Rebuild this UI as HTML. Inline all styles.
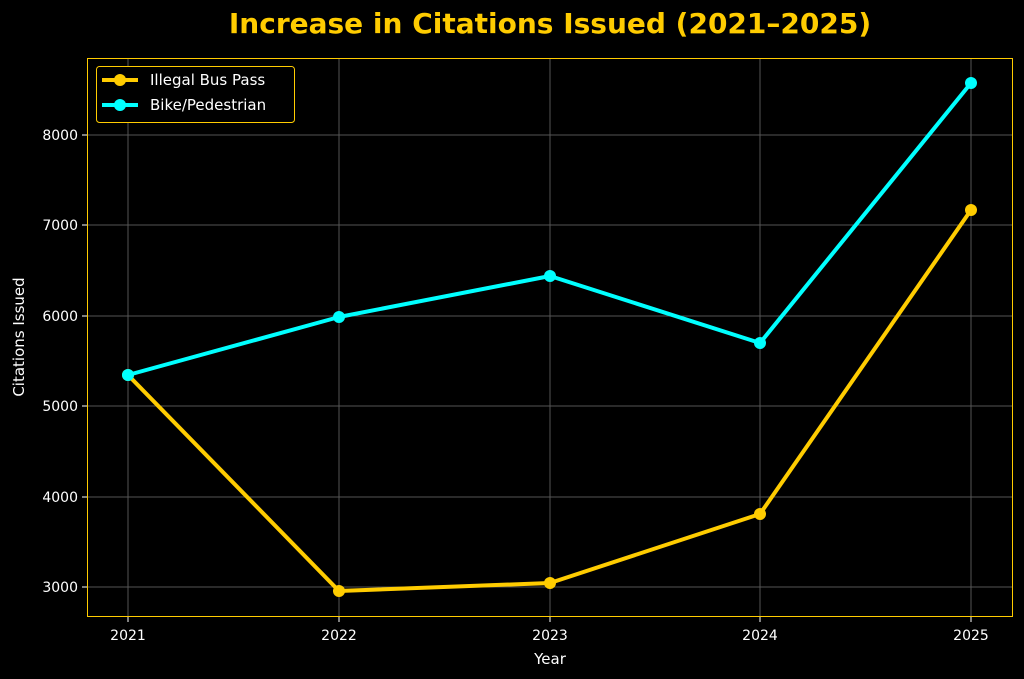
<!DOCTYPE html>
<html><head><style>
html,body{margin:0;padding:0;background:#000;overflow:hidden;width:1024px;height:679px;}
svg{display:block;}
svg text{font-family:"DejaVu Sans","Liberation Sans",sans-serif;}
</style></head><body>
<svg width="1024" height="679" xmlns="http://www.w3.org/2000/svg">
<rect width="1024" height="679" fill="#000"/>
<text x="550" y="33" text-anchor="middle" font-size="28" font-weight="bold" fill="#FFCC00">Increase in Citations Issued (2021–2025)</text>
<g stroke="#555" stroke-width="1">
<line x1="128" y1="58" x2="128" y2="617"/><line x1="339" y1="58" x2="339" y2="617"/><line x1="550" y1="58" x2="550" y2="617"/><line x1="760" y1="58" x2="760" y2="617"/><line x1="971" y1="58" x2="971" y2="617"/>
<line x1="87" y1="587" x2="1012" y2="587"/><line x1="87" y1="497" x2="1012" y2="497"/><line x1="87" y1="406" x2="1012" y2="406"/><line x1="87" y1="316" x2="1012" y2="316"/><line x1="87" y1="225" x2="1012" y2="225"/><line x1="87" y1="135" x2="1012" y2="135"/>
</g>
<rect x="87.5" y="58.5" width="925" height="558" fill="none" stroke="#FFCC00" stroke-width="1"/>
<g stroke="#fff" stroke-width="1">
<line x1="128" y1="617" x2="128" y2="622"/><line x1="339" y1="617" x2="339" y2="622"/><line x1="550" y1="617" x2="550" y2="622"/><line x1="760" y1="617" x2="760" y2="622"/><line x1="971" y1="617" x2="971" y2="622"/>
<line x1="82" y1="587" x2="87" y2="587"/><line x1="82" y1="497" x2="87" y2="497"/><line x1="82" y1="406" x2="87" y2="406"/><line x1="82" y1="316" x2="87" y2="316"/><line x1="82" y1="225" x2="87" y2="225"/><line x1="82" y1="135" x2="87" y2="135"/>
</g>
<g fill="#fff" font-size="14" text-anchor="middle">
<text x="128" y="640">2021</text><text x="339" y="640">2022</text><text x="550" y="640">2023</text><text x="760" y="640">2024</text><text x="971" y="640">2025</text>
</g>
<g fill="#fff" font-size="14" text-anchor="end">
<text x="78" y="592">3000</text><text x="78" y="502">4000</text><text x="78" y="411">5000</text><text x="78" y="321">6000</text><text x="78" y="230">7000</text><text x="78" y="140">8000</text>
</g>
<text x="550" y="664" text-anchor="middle" font-size="15" fill="#fff">Year</text>
<text transform="translate(24,337) rotate(-90)" text-anchor="middle" font-size="15" fill="#fff">Citations Issued</text>
<polyline points="128,375 339,591 550,583 760,514 971,210" fill="none" stroke="#FFCC00" stroke-width="4" stroke-linejoin="round"/>
<g fill="#FFCC00"><circle cx="128" cy="375" r="6"/><circle cx="339" cy="591" r="6"/><circle cx="550" cy="583" r="6"/><circle cx="760" cy="514" r="6"/><circle cx="971" cy="210" r="6"/></g>
<polyline points="128,375 339,317 550,276 760,343 971,83" fill="none" stroke="#00FFFF" stroke-width="4" stroke-linejoin="round"/>
<g fill="#00FFFF"><circle cx="128" cy="375" r="6"/><circle cx="339" cy="317" r="6"/><circle cx="550" cy="276" r="6"/><circle cx="760" cy="343" r="6"/><circle cx="971" cy="83" r="6"/></g>
<rect x="96.5" y="66.5" width="198" height="56" rx="3" fill="#000" stroke="#FFCC00" stroke-width="1"/>
<line x1="102" y1="80" x2="138" y2="80" stroke="#FFCC00" stroke-width="4"/><circle cx="120" cy="80" r="6" fill="#FFCC00"/>
<line x1="102" y1="105" x2="138" y2="105" stroke="#00FFFF" stroke-width="4"/><circle cx="120" cy="105" r="6" fill="#00FFFF"/>
<text x="150" y="85" font-size="15" fill="#fff">Illegal Bus Pass</text>
<text x="150" y="110" font-size="15" fill="#fff">Bike/Pedestrian</text>
</svg>
</body></html>
